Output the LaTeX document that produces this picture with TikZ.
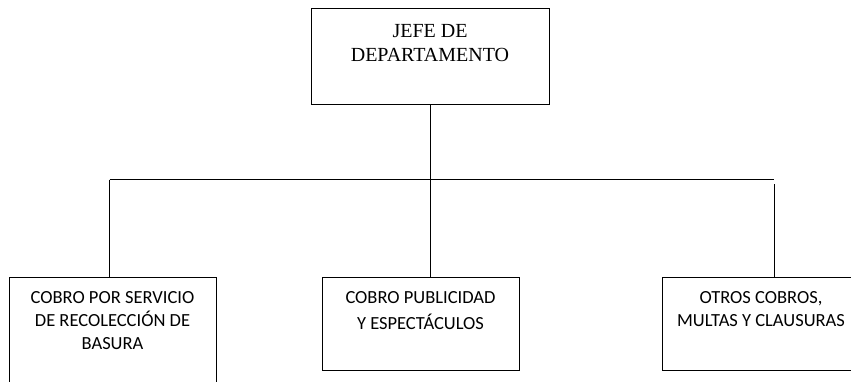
\documentclass[tikz,border=0pt]{standalone}
\usepackage{fontspec}
\setmainfont{Liberation Serif}
\newfontfamily\calibrifont{Carlito}
\newcommand\orgtext[5]{\parbox[t][#2][t]{#1}{\centering\rule{0pt}{#3}#5\par}}
\begin{document}
\begin{tikzpicture}[x=1pt,y=-1pt,
  orgbox/.style={draw=black, line width=1pt, inner sep=0pt, outer sep=0pt, anchor=north west, rectangle},
  link/.style={draw=black, line width=1pt}]
\useasboundingbox (0,0) rectangle (851,381);
\node[orgbox] (jefe) at (311,8)
  {\parbox[t][96pt][t]{238pt}{\fontsize{20}{24}\selectfont\centering\rule{0pt}{29pt}JEFE DE\\DEPARTAMENTO\par}};
\node[orgbox] (basura) at (9,277)
  {\parbox[t][130pt][t]{207pt}{\calibrifont\fontsize{18.5}{23}\selectfont\centering\rule{0pt}{26pt}COBRO POR SERVICIO\\DE RECOLECCIÓN DE\\BASURA\par}};
\node[orgbox] (publi) at (322,277)
  {\parbox[t][93pt][t]{197pt}{\calibrifont\fontsize{18.5}{26.5}\selectfont\centering\rule{0pt}{26pt}COBRO PUBLICIDAD\\Y ESPECTÁCULOS\par}};
\node[orgbox] (otros) at (662,277)
  {\parbox[t][93pt][t]{198pt}{\calibrifont\fontsize{18.5}{23}\selectfont\centering\rule{0pt}{26pt}OTROS COBROS,\\MULTAS Y CLAUSURAS\par}};
\coordinate (busL) at (109.5,179.5);
\coordinate (busR) at (774,179.5);
\coordinate (rtop) at (774,184);
\draw[link] (busL) -- (busR);
\draw[link] (jefe.south) -- (jefe.south |- publi.north);
\draw[link] (busL) -- (busL |- basura.north);
\draw[link] (rtop) -- (rtop |- otros.north);
\end{tikzpicture}
\end{document}
